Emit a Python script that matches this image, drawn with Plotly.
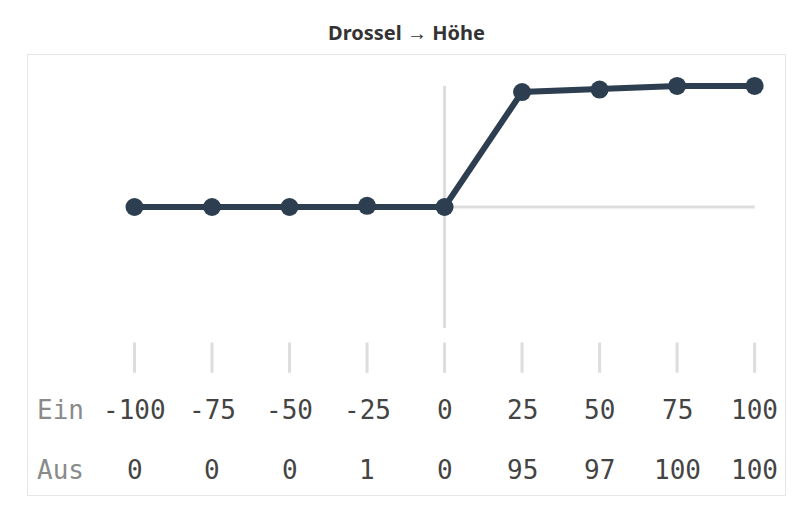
import plotly.graph_objects as go

# Throttle input ("Ein") vs. resulting height output ("Aus")
ein = [-100, -75, -50, -25, 0, 25, 50, 75, 100]
aus = [0, 0, 0, 1, 0, 95, 97, 100, 100]
row_labels = ["Ein", "Aus"]

LINE_COLOR = "#2c3e50"
GRID_COLOR = "#dddddd"
MONO = "DejaVu Sans Mono"

fig = go.Figure()

# Axis cross through the origin, spanning the input range
axis_min, axis_max = min(ein), max(ein)
fig.add_shape(type="line", x0=0, x1=0, y0=axis_min, y1=axis_max,
              line=dict(color=GRID_COLOR, width=3), layer="below")
fig.add_shape(type="line", x0=axis_min, x1=axis_max, y0=0, y1=0,
              line=dict(color=GRID_COLOR, width=3), layer="below")

# Small tick marks above the value table
for v in ein:
    fig.add_shape(type="line", x0=v, x1=v, y0=-112, y1=-137,
                  line=dict(color=GRID_COLOR, width=3), layer="below")

fig.add_trace(
    go.Scatter(
        x=ein,
        y=aus,
        mode="lines+markers",
        line=dict(color=LINE_COLOR, width=6),
        marker=dict(color=LINE_COLOR, size=18),
        hoverinfo="skip",
    )
)

# Value table: Ein row and Aus row
rows = [(row_labels[0], ein, -168), (row_labels[1], aus, -217)]
for label, values, y in rows:
    fig.add_annotation(x=-115.5, y=y, text=label, showarrow=False, xanchor="right",
                       font=dict(family=MONO, size=26, color="#8a8a8a"))
    for xv, val in zip(ein, values):
        fig.add_annotation(x=xv, y=y, text=str(val), showarrow=False,
                           font=dict(family=MONO, size=26, color="#444444"))

fig.update_layout(
    width=800,
    height=506,
    paper_bgcolor="white",
    plot_bgcolor="white",
    showlegend=False,
    margin=dict(l=28, r=15, t=55, b=11),
    title=dict(
        text="<b>Drossel → Höhe</b>",
        x=0.5,
        xref="paper",
        xanchor="center",
        y=1 - 33 / 506,
        yref="container",
        yanchor="middle",
        font=dict(family="Noto Sans", size=20, color="#333333"),
    ),
)
fig.update_xaxes(range=[-134.35, 109.8], showgrid=False, zeroline=False,
                 showticklabels=False, ticks="", showline=True, mirror=True,
                 linecolor="#e6e6e6", linewidth=1)
fig.update_yaxes(range=[-238, 125.6], showgrid=False, zeroline=False,
                 showticklabels=False, ticks="", showline=True, mirror=True,
                 linecolor="#e6e6e6", linewidth=1)

# Drop the browser's default page margin so the figure sits at the corner
fig.write_html(
    "out.html",
    config={"displayModeBar": False},
    post_script="document.body.style.margin = '0';",
)
